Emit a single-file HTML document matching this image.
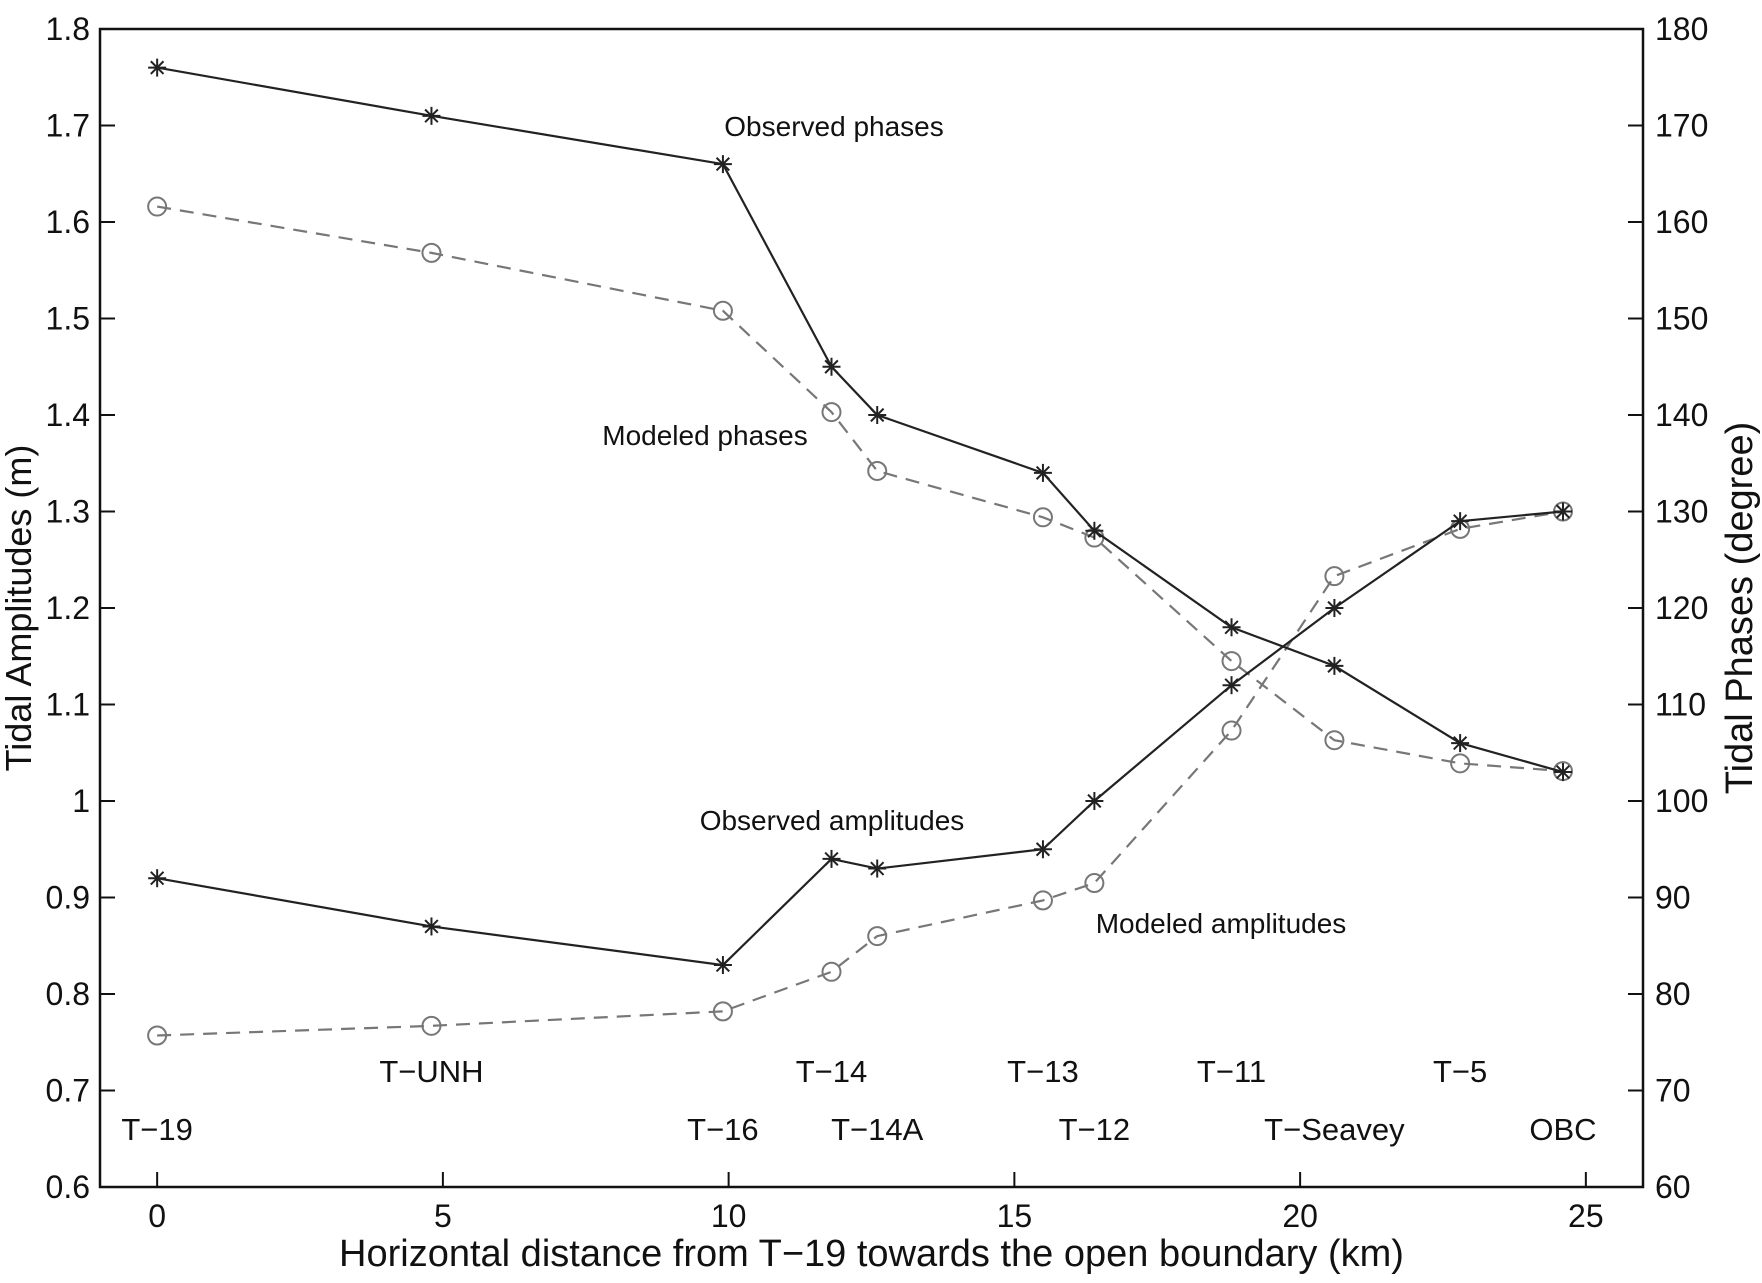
<!DOCTYPE html>
<html><head><meta charset="utf-8"><style>body{margin:0;background:#fff}svg{display:block;font-family:"Liberation Sans",sans-serif}</style></head>
<body>
<svg id="c" width="1762" height="1283"></svg>
<script>
const dist=[0,4.8,9.9,11.8,12.6,15.5,16.4,18.8,20.6,22.8,24.6];
const obsPhase=[176,171,166,145,140,134,128,118,114,106,103];
const modPhase=[161.6,156.8,150.8,140.3,134.2,129.4,127.3,114.5,106.3,103.9,103.1];
const obsAmp=[0.92,0.87,0.83,0.94,0.93,0.95,1.00,1.12,1.20,1.29,1.30];
const modAmp=[0.757,0.767,0.782,0.823,0.860,0.897,0.915,1.073,1.233,1.282,1.300];
const stations=["T−19","T−UNH","T−16","T−14","T−14A","T−13","T−12","T−11","T−Seavey","T−5","OBC"];
const stationRow=[2,1,2,1,2,1,2,1,2,1,2];
const xTicks=[0,5,10,15,20,25];
const yTicks=[0.6,0.7,0.8,0.9,1,1.1,1.2,1.3,1.4,1.5,1.6,1.7,1.8];
const y2Ticks=[60,70,80,90,100,110,120,130,140,150,160,170,180];
const L=100,R=1643,T=29,B=1187;
const X=v=>L+(v+1)/27*(R-L);
const Y=v=>B-(v-0.6)/1.2*(B-T);
const Y2=v=>B-(v-60)/120*(B-T);
const svg=document.getElementById('c');const NS='http://www.w3.org/2000/svg';
function mk(t,a,p){const e=document.createElementNS(NS,t);for(const k in a)e.setAttribute(k,a[k]);(p||svg).appendChild(e);return e;}
let e=mk('rect',{x:L,y:T,width:R-L,height:B-T,fill:'none',stroke:'#111','stroke-width':2.5});


xTicks.forEach(v=>{mk('line',{x1:X(v),x2:X(v),y1:B,y2:B-15,stroke:'#111','stroke-width':2});
 const t=mk('text',{x:X(v),y:B+40,'text-anchor':'middle','font-size':32,fill:'#111'});t.textContent=v;
 
 });
yTicks.forEach(v=>{mk('line',{x1:L,x2:L+15,y1:Y(v),y2:Y(v),stroke:'#111','stroke-width':2});
 const t=mk('text',{x:L-10,y:Y(v)+11,'text-anchor':'end','font-size':32,fill:'#111'});t.textContent=v;
 
 });
y2Ticks.forEach(v=>{mk('line',{x1:R,x2:R-15,y1:Y2(v),y2:Y2(v),stroke:'#111','stroke-width':2});
 const t=mk('text',{x:R+12,y:Y2(v)+11,'text-anchor':'start','font-size':32,fill:'#111'});t.textContent=v;
 
 });
function series(vals,yf,obs,name){
 const pts=vals.map((v,i)=>X(dist[i])+','+yf(v)).join(' ');
 const g=mk('g',{});
 
 
 mk('polyline',{points:pts,fill:'none',stroke:obs?'#222':'#777','stroke-width':2.2,'stroke-dasharray':obs?'none':'14,9'},g);
 vals.forEach((v,i)=>{const x=X(dist[i]),y=yf(v);
  if(obs){for(let a=0;a<4;a++){const an=a*Math.PI/4,r=9;mk('line',{x1:x-r*Math.cos(an),y1:y-r*Math.sin(an),x2:x+r*Math.cos(an),y2:y+r*Math.sin(an),stroke:'#222','stroke-width':2},g);}}
  else mk('circle',{cx:x,cy:y,r:9,fill:'none',stroke:'#777','stroke-width':2},g);});
}
series(modPhase,Y2,false,'modeled-phases-series');
series(modAmp,Y,false,'modeled-amplitudes-series');
series(obsPhase,Y2,true,'observed-phases-series');
series(obsAmp,Y,true,'observed-amplitudes-series');
stations.forEach((s,i)=>{const t=mk('text',{x:X(dist[i]),y:stationRow[i]==1?1082:1140,'text-anchor':'middle','font-size':31,fill:'#111'});t.textContent=s;
 
 });
[["Observed phases",834,136],["Modeled phases",705,445],["Observed amplitudes",832,830],["Modeled amplitudes",1221,933]].forEach(a=>{
 const t=mk('text',{x:a[1],y:a[2],'text-anchor':'middle','font-size':28,fill:'#111'});t.textContent=a[0];
 
 });
let t=mk('text',{x:(L+R)/2,y:1266,'text-anchor':'middle','font-size':38,fill:'#111'});t.textContent='Horizontal distance from T−19 towards the open boundary (km)';


t=mk('text',{x:0,y:0,'text-anchor':'middle','font-size':36,fill:'#111',transform:`translate(31,${(T+B)/2}) rotate(-90)`});t.textContent='Tidal Amplitudes (m)';


t=mk('text',{x:0,y:0,'text-anchor':'middle','font-size':38,fill:'#111',transform:`translate(1752,${(T+B)/2}) rotate(-90)`});t.textContent='Tidal Phases (degree)';


</script>
</body></html>
